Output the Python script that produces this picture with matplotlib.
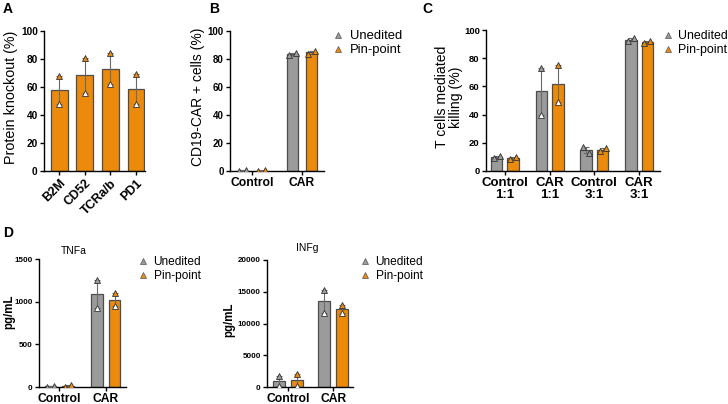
import numpy as np
import matplotlib
matplotlib.use("Agg")
import matplotlib.pyplot as plt
from matplotlib.lines import Line2D

plt.rcParams['font.family'] = ['Liberation Sans', 'DejaVu Sans']

GREY = '#9B9B9B'
ORANGE = '#EC8A0C'
EDGE = '#4D4D4D'

# ---------- data ----------
a_cats = ['B2M', 'CD52', 'TCRa/b', 'PD1']
a_pts = [[68, 48], [81, 56], [84, 62], [69, 48]]

b_cats = ['Control', 'CAR']
b_unedited = [[0.3, 0.4], [83, 84]]
b_pinpoint = [[0.3, 0.4], [83.5, 86]]

c_cats = ['Control\n1:1', 'CAR\n1:1', 'Control\n3:1', 'CAR\n3:1']
c_unedited = [[9, 10.5], [73, 40], [17, 13], [92, 94]]
c_pinpoint = [[8.5, 10], [75, 49], [14, 16], [91, 92.5]]

d_cats = ['Control', 'CAR']
tnf_unedited = [[5, 15], [1250, 930]]
tnf_pinpoint = [[0, 20], [1100, 950]]
ifn_unedited = [[1800, 200], [15300, 11700]]
ifn_pinpoint = [[2000, 100], [12900, 11600]]

series_names = ['Unedited', 'Pin-point']

W, H = 728, 404
fig = plt.figure(figsize=(W / 100, H / 100), dpi=100)


def mkax(l, r, t, b):
    return fig.add_axes([l / W, 1 - b / H, (r - l) / W, (b - t) / H])


def style(ax, ysize):
    for s in ['top', 'right']:
        ax.spines[s].set_visible(False)
    for s in ['left', 'bottom']:
        ax.spines[s].set_linewidth(1.0)
    ax.tick_params(axis='both', length=3, width=1, pad=1.5)
    ax.tick_params(axis='y', labelsize=ysize)
    for lab in ax.get_yticklabels():
        lab.set_fontweight('bold')


def ylab(ax, text, xr, yc, size=10.3, weight='normal'):
    ax.set_ylabel(text, fontsize=size, fontweight=weight, linespacing=1.0)
    ax.yaxis.set_label_coords(xr / W, 1 - yc / H, transform=fig.transFigure)


def draw_group(ax, xs, pts, color, width, ymax, jitter=0.07):
    pts = np.asarray(pts, dtype=float)
    means = pts.mean(axis=1)
    sem = np.abs(pts[:, 0] - pts[:, 1]) / 2
    ax.bar(xs, means, width=width, color=color, edgecolor=EDGE, linewidth=0.9, zorder=2)
    ax.errorbar(xs, means, yerr=sem, fmt='none', ecolor='#6a6a6a', elinewidth=0.8,
                capsize=2.5, capthick=0.8, zorder=3)
    for x, p in zip(xs, pts):
        close = abs(p[0] - p[1]) < 0.06 * ymax
        dx = jitter if close else 0
        ax.plot([x - dx], [p[0]], marker='^', ms=4.8, mfc=color, mec='#333333', mew=0.6,
                ls='none', zorder=4)
        ax.plot([x + dx], [p[1]], marker='^', ms=4.8, mfc='white' if not close else color,
                mec='#333333', mew=0.6, ls='none', zorder=4)


def add_legend(ax, x, y, size, tpad=0.5):
    handles = [Line2D([], [], marker='^', ls='none', ms=3.8, mfc=GREY, mec='#555555', mew=0.5),
               Line2D([], [], marker='^', ls='none', ms=3.8, mfc=ORANGE, mec='#555555', mew=0.5)]
    ax.legend(handles, series_names, loc='upper left', bbox_to_anchor=(x / W, 1 - y / H),
              bbox_transform=fig.transFigure, frameon=False, fontsize=size,
              handlelength=0.8, handletextpad=tpad, labelspacing=0.15, borderpad=0,
              borderaxespad=0)


# ---------- Panel A ----------
ax = mkax(44, 145, 31, 171)
xa = np.arange(len(a_cats))
draw_group(ax, xa, a_pts, ORANGE, 0.66, 100)
ax.set_xlim(-0.586, 3.35)
ax.set_ylim(0, 100)
ax.set_yticks(range(0, 101, 20))
ax.set_xticks(xa)
ax.set_xticklabels(a_cats, rotation=45, ha='right', rotation_mode='anchor',
                   fontsize=9, fontweight='bold')
style(ax, 7.3)
ylab(ax, 'Protein knockout (%)', 18, 97)

# ---------- Panel B ----------
ax = mkax(230, 324, 31, 171)
xb = np.arange(len(b_cats))
draw_group(ax, xb - 0.19, b_unedited, GREY, 0.22, 100)
draw_group(ax, xb + 0.19, b_pinpoint, ORANGE, 0.22, 100)
ax.set_xlim(-0.44, 1.44)
ax.set_ylim(0, 100)
ax.set_yticks(range(0, 101, 20))
ax.set_xticks(xb)
ax.set_xticklabels(b_cats, fontsize=8.7, fontweight='bold')
style(ax, 7.0)
ylab(ax, 'CD19-CAR + cells (%)', 205, 97, size=10.0)
add_legend(ax, 333, 30, 9.4)

# ---------- Panel C ----------
ax = mkax(486, 660, 30, 171)
xc = np.arange(len(c_cats))
draw_group(ax, xc - 0.186, c_unedited, GREY, 0.26, 100)
draw_group(ax, xc + 0.186, c_pinpoint, ORANGE, 0.26, 100)
ax.set_xlim(-0.425, 3.47)
ax.set_ylim(0, 100)
ax.set_yticks(range(0, 101, 20))
ax.set_xticks(xc)
ax.set_xticklabels(c_cats, fontsize=9.5, fontweight='bold', linespacing=1.0)
style(ax, 6.8)
ylab(ax, 'T cells mediated\nkilling (%)', 463, 97, size=10.1)
add_legend(ax, 663, 30, 8.9, tpad=0.4)

# ---------- Panel D (TNFa) ----------
ax = mkax(39, 126, 259, 387)
xd = np.arange(len(d_cats))
draw_group(ax, xd - 0.19, tnf_unedited, GREY, 0.24, 1500)
draw_group(ax, xd + 0.19, tnf_pinpoint, ORANGE, 0.24, 1500)
ax.set_xlim(-0.43, 1.43)
ax.set_ylim(0, 1500)
ax.set_yticks(range(0, 1501, 500))
ax.set_xticks(xd)
ax.set_xticklabels(d_cats, fontsize=8.7, fontweight='bold')
style(ax, 5.8)
ylab(ax, 'pg/mL', 15, 312, size=8.3, weight='bold')
fig.text(74 / W, 1 - 251 / H, 'TNFa', fontsize=7.5, ha='center', va='center')
add_legend(ax, 138, 256, 8.6)

# ---------- Panel D (INFg) ----------
ax = mkax(267, 353, 260, 387)
draw_group(ax, xd - 0.2, ifn_unedited, GREY, 0.26, 20000)
draw_group(ax, xd + 0.2, ifn_pinpoint, ORANGE, 0.26, 20000)
ax.set_xlim(-0.47, 1.44)
ax.set_ylim(0, 20000)
ax.set_yticks(range(0, 20001, 5000))
ax.set_xticks(xd)
ax.set_xticklabels(d_cats, fontsize=8.7, fontweight='bold')
style(ax, 5.8)
ylab(ax, 'pg/mL', 235, 320, size=8.3, weight='bold')
fig.text(307 / W, 1 - 248 / H, 'INFg', fontsize=7.5, ha='center', va='center')
add_legend(ax, 360, 256, 8.6)

# panel letters
for lab, x, y in [('A', 3, 2), ('B', 209, 2), ('C', 422, 2), ('D', 3, 226)]:
    fig.text(x / W, 1 - y / H, lab, fontsize=10, fontweight='bold', va='top', ha='left')

fig.savefig('out.png', dpi=100)
